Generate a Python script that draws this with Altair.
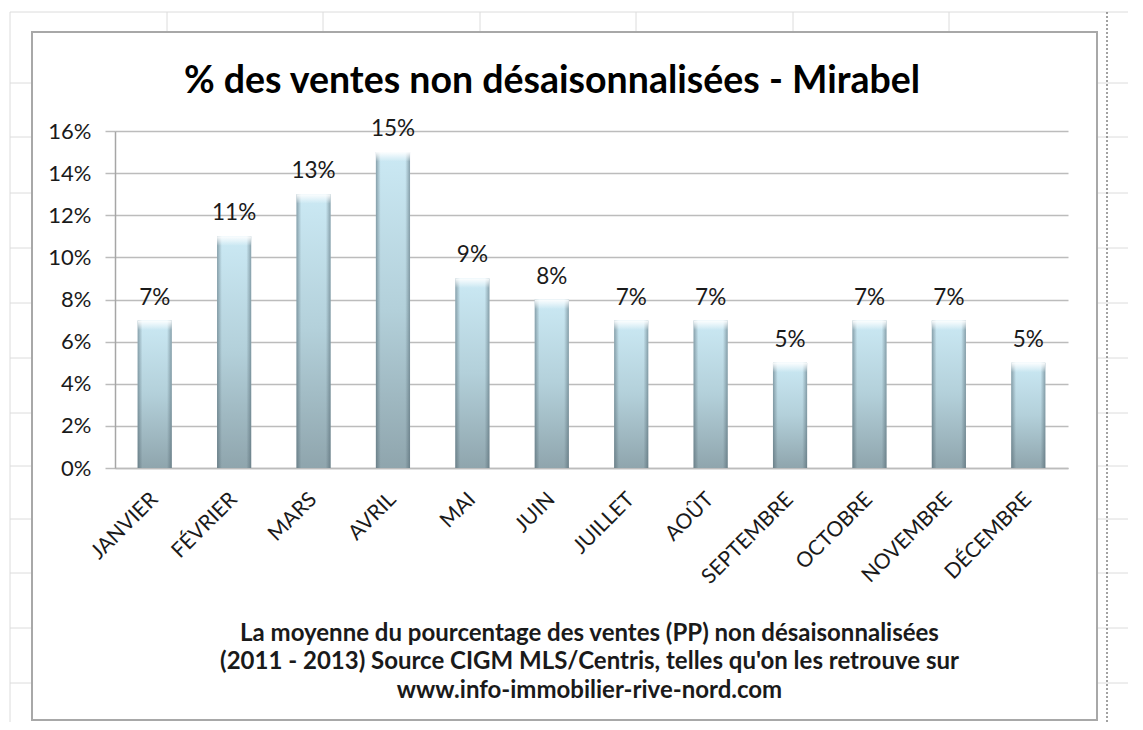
import altair as alt
import pandas as pd

# ---------------- data ----------------
months = ["JANVIER", "FÉVRIER", "MARS", "AVRIL", "MAI", "JUIN",
          "JUILLET", "AOÛT", "SEPTEMBRE", "OCTOBRE", "NOVEMBRE", "DÉCEMBRE"]
shares = [0.07, 0.11, 0.13, 0.15, 0.09, 0.08, 0.07, 0.07, 0.05, 0.07, 0.07, 0.05]
y_ticks = [0.0, 0.02, 0.04, 0.06, 0.08, 0.10, 0.12, 0.14, 0.16]
title_text = "% des ventes non désaisonnalisées - Mirabel"
footer_lines = [
    "La moyenne du pourcentage des ventes (PP) non désaisonnalisées",
    "(2011 - 2013) Source CIGM MLS/Centris, telles qu'on les retrouve sur",
    "www.info-immobilier-rive-nord.com",
]

# ---------------- layout ----------------
W, H = 953, 337
PAD_L, PAD_T, PAD_R, PAD_B = 107, 123, 60, 254
OX, OY = 8 + PAD_L, 8 + PAD_T  # page position of the plot origin
FONT = "Lato"
TXT = "#1a1a1a"

df = pd.DataFrame({"mois": months, "part": shares})

# ---------------- spreadsheet backdrop (decoration) ----------------
sheet_cols = [167, 323, 480, 636, 793, 949]
sheet_rows = [83, 137, 193, 248, 303, 358, 413, 466, 519, 573, 628, 683]
segs = [(10, 1143, 12, 12), (10, 10, 12, 730)]
segs += [(c, c, 12, 32) for c in sheet_cols]
segs += [(c, c, 722, 730) for c in sheet_cols]
segs += [(10, 32, r, r) for r in sheet_rows]
segs += [(1097, 1143, r, r) for r in sheet_rows]
deco = pd.DataFrame([{"x": a - OX, "x2": b - OX, "y": c - OY, "y2": d - OY}
                     for a, b, c, d in segs])

sheet = alt.Chart(deco).mark_rule(color="#dcdcdc", strokeWidth=1).encode(
    x=alt.X("x:Q", scale=None, axis=None),
    x2="x2:Q",
    y=alt.Y("y:Q", scale=None, axis=None),
    y2="y2:Q",
)

border_df = pd.DataFrame([{"x": 32 - OX, "x2": 1097 - OX, "y": 32 - OY, "y2": 720 - OY}])
border = alt.Chart(border_df).mark_rect(fill=None, stroke="#a8a8a8", strokeWidth=2).encode(
    x=alt.X("x:Q", scale=None, axis=None),
    x2="x2:Q",
    y=alt.Y("y:Q", scale=None, axis=None),
    y2="y2:Q",
)

page_break_df = pd.DataFrame([{"x": 1107 - OX, "y": 12 - OY, "y2": 730 - OY}])
page_break = alt.Chart(page_break_df).mark_rule(color="#444444", strokeWidth=1, strokeDash=[2, 2]).encode(
    x=alt.X("x:Q", scale=None, axis=None),
    y=alt.Y("y:Q", scale=None, axis=None),
    y2="y2:Q",
)

title_mark = alt.Chart(pd.DataFrame({"t": [title_text]})).mark_text(
    font=FONT, fontSize=37.5, fontWeight="bold", color="#000000",
    align="center", baseline="alphabetic",
).encode(
    x=alt.value(552 - OX), y=alt.value(93 - OY), text="t:N",
)

# ---------------- main chart ----------------
def x_scale():
    return alt.Scale(domain=months, paddingInner=0.57, paddingOuter=0.285)

def y_scale():
    return alt.Scale(domain=[0, 0.16], nice=False)

x_enc = alt.X(
    "mois:N", sort=months, scale=x_scale(),
    axis=alt.Axis(
        title=footer_lines,
        labelAngle=-45, labelAlign="right", labelBaseline="middle",
        labelPadding=28, labelFont=FONT, labelFontSize=21, labelColor=TXT,
        ticks=False, domain=True, domainColor="#bcbcbc", domainWidth=1.5,
        titleFont=FONT, titleFontSize=24, titleFontWeight="bold", titleColor=TXT,
        titleLineHeight=28.5, titleX=474, titleY=172, titleAlign="center",
        titleBaseline="alphabetic", titleAngle=0,
    ),
)
y_enc = alt.Y(
    "part:Q", scale=y_scale(),
    axis=alt.Axis(
        title=None, values=y_ticks, format=".0%",
        grid=True, gridColor="#bcbcbc", gridWidth=1.5,
        domain=True, domainColor="#a6a6a6", domainWidth=1.5,
        ticks=True, tickSize=10, tickColor="#bcbcbc", tickWidth=1.5,
        labelPadding=14, labelFont=FONT, labelFontSize=22, labelColor=TXT,
    ),
)
x_plain = alt.X("mois:N", sort=months, scale=x_scale(), axis=None)
y_plain = alt.Y("part:Q", scale=y_scale(), axis=None)

vgrad = alt.Gradient(
    gradient="linear", x1=0, x2=0, y1=0, y2=1,
    stops=[alt.GradientStop(color="#cbe9f4", offset=0),
           alt.GradientStop(color="#b3d0da", offset=0.5),
           alt.GradientStop(color="#8fa5ad", offset=1)],
)
hgrad = alt.Gradient(
    gradient="linear", x1=0, x2=1, y1=0, y2=0,
    stops=[alt.GradientStop(color="rgba(70,90,100,0.5)", offset=0),
           alt.GradientStop(color="rgba(70,90,100,0)", offset=0.14),
           alt.GradientStop(color="rgba(70,90,100,0)", offset=0.86),
           alt.GradientStop(color="rgba(70,90,100,0.5)", offset=1)],
)
capgrad = alt.Gradient(
    gradient="linear", x1=0, x2=0, y1=0, y2=1,
    stops=[alt.GradientStop(color="rgba(255,255,255,0.95)", offset=0),
           alt.GradientStop(color="rgba(255,255,255,0)", offset=1)],
)

base = alt.Chart(df)
bars = base.mark_bar(fill=vgrad).encode(x=x_enc, y=y_enc)
shade = base.mark_bar(fill=hgrad).encode(x=x_plain, y=y_plain)
cap = base.transform_calculate(cap_bot="datum.part - 0.0045").mark_bar(fill=capgrad).encode(
    x=x_plain, y=y_plain, y2="cap_bot:Q",
)
labels = base.mark_text(baseline="alphabetic", dy=-16, font=FONT, fontSize=22.5, color=TXT).encode(
    x=x_plain, y=y_plain,
    text=alt.Text("part:Q", format=".0%"),
)

chart = alt.layer(
    sheet, border, page_break, title_mark, bars, shade, cap, labels
).resolve_scale(
    x="independent", y="independent"
).properties(
    width=W, height=H,
    autosize=alt.AutoSizeParams(type="none"),
    padding={"left": PAD_L, "top": PAD_T, "right": PAD_R, "bottom": PAD_B},
    background="white",
).configure_view(stroke=None)

chart.save("out.html", embed_options={"renderer": "svg", "actions": False})
